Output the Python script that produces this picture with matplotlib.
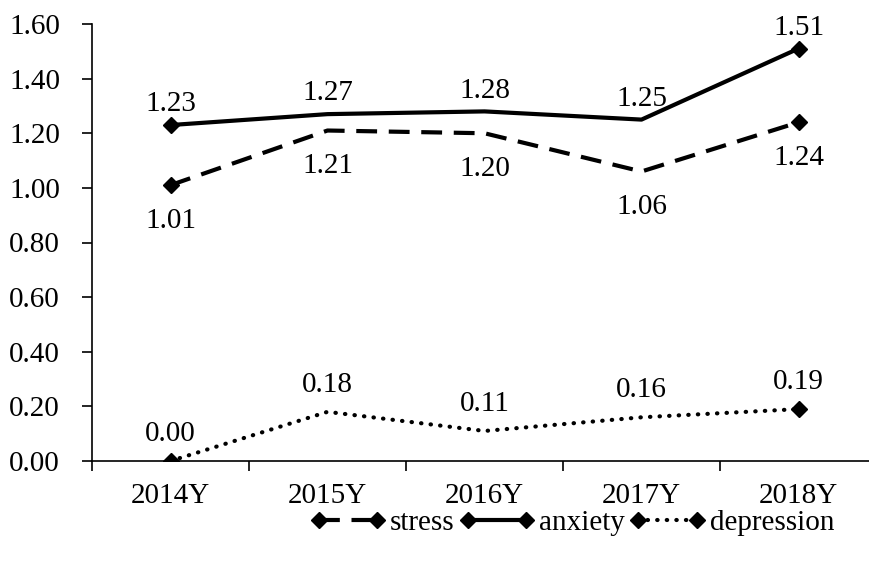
import numpy as np
import matplotlib.pyplot as plt

# data
years = ['2014Y', '2015Y', '2016Y', '2017Y', '2018Y']
stress = [1.01, 1.21, 1.20, 1.06, 1.24]
anxiety = [1.23, 1.27, 1.28, 1.25, 1.51]
depression = [0.00, 0.18, 0.11, 0.16, 0.19]

plt.rcParams['font.family'] = ['Liberation Serif', 'DejaVu Serif']
fs = 21

fig = plt.figure(figsize=(8.7, 5.65), dpi=100)
ax = fig.add_axes([92 / 870, 104 / 565, 785 / 870, 437 / 565])

x = np.arange(len(years))
style = {"color": "black", "linewidth": 3, "marker": "D", "markersize": 8,
         "markevery": [0, len(years) - 1]}
ax.plot(x, stress, dashes=(5, 2.8), label='stress', **style)
ax.plot(x, anxiety, linestyle='-', label='anxiety', **style)
ax.plot(x, depression, linestyle=(0, (0.1, 2.2)), dash_capstyle='round',
        label='depression', **style)

# value labels
for i in range(len(years)):
    ax.annotate('%.2f' % stress[i], (x[i], stress[i]), xytext=(0, -16.5),
                textcoords='offset points', ha='center', va='top', fontsize=fs)
    ax.annotate('%.2f' % anxiety[i], (x[i], anxiety[i]), xytext=(0, 5.5),
                textcoords='offset points', ha='center', va='bottom', fontsize=fs)
    ax.annotate('%.2f' % depression[i], (x[i], depression[i]), xytext=(0, 10),
                textcoords='offset points', ha='center', va='bottom', fontsize=fs)

ax.set_xlim(-0.5, len(years) - 0.5)
ax.set_ylim(0, 1.6)
ax.set_yticks(np.arange(0, 1.61, 0.2))
ax.set_yticklabels(['%.2f' % v for v in np.arange(0, 1.61, 0.2)])
ax.set_xticks(x)
ax.set_xticklabels(years)
ax.set_xticks(np.arange(-0.5, len(years), 1.0), minor=True)
ax.tick_params(axis='x', which='major', length=0, pad=16, labelsize=fs)
ax.tick_params(axis='x', which='minor', length=7, width=1.2, direction='out')
ax.tick_params(axis='y', length=7, width=1.2, direction='out', pad=16, labelsize=fs)
for s in ['top', 'right']:
    ax.spines[s].set_visible(False)
ax.spines['left'].set_linewidth(1.2)
ax.spines['bottom'].set_linewidth(1.2)

fig.legend(loc='center', bbox_to_anchor=(572 / 870, 1 - 523 / 565), ncol=3,
           frameon=False, fontsize=fs, numpoints=2, handlelength=2.6,
           handletextpad=0.15, columnspacing=0.15, borderpad=0)

fig.savefig('out.png', dpi=100)
